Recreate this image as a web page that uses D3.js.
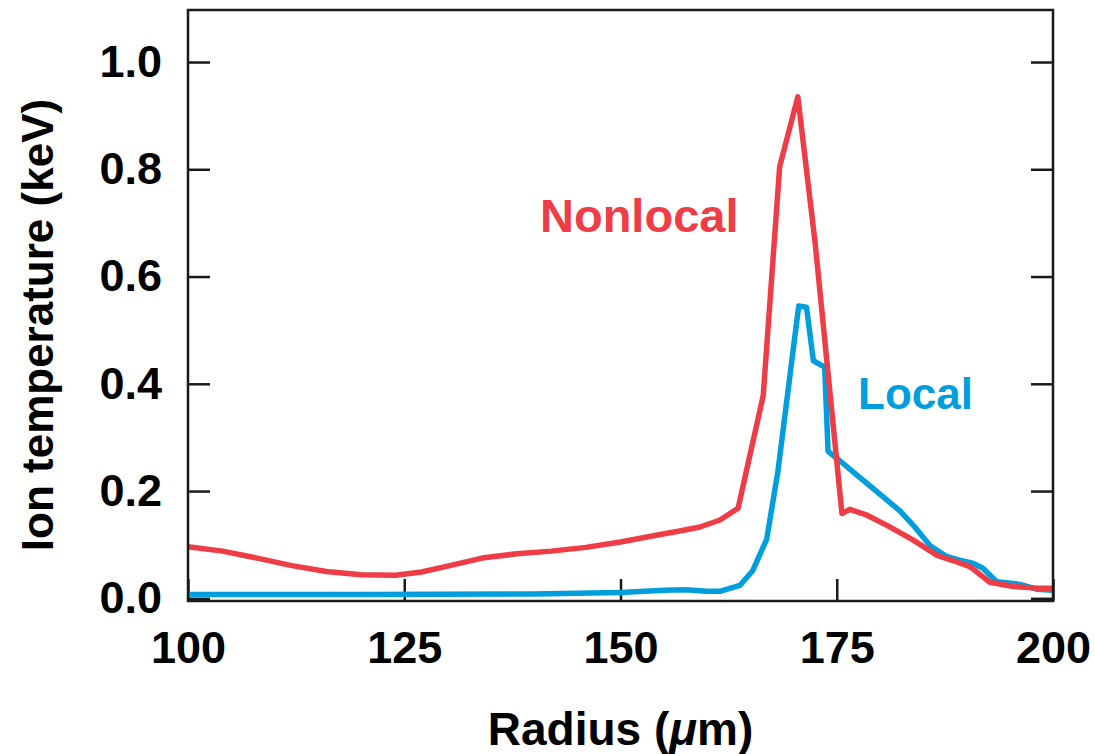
<!DOCTYPE html>
<html>
<head>
<meta charset="utf-8">
<script src="https://cdn.jsdelivr.net/npm/d3@7"></script>
<style>
  body { margin: 0; background: #fff; }
  text { font-family: "Liberation Sans", Arial, sans-serif; font-weight: bold; }
</style>
</head>
<body>
<div id="chart"></div>
<script>
// Nonlocal ion temperature profile (radius um, keV)
const nonlocalR = [100, 104, 108, 112, 116, 120, 124, 127, 130, 134, 138, 142, 146, 150, 154.6, 157, 159.2, 161.5, 163.6,
  166.5, 168.4, 170.5, 172.5, 175.6, 176.5, 178.5, 180.8, 183.8, 186.6, 188.5, 190.4, 192.7, 195.4, 198.1, 200];
const nonlocalT = [0.096, 0.088, 0.075, 0.061, 0.050, 0.044, 0.043, 0.049, 0.060, 0.075, 0.083, 0.088, 0.095, 0.105, 0.119, 0.126, 0.133, 0.146, 0.168,
  0.378, 0.805, 0.935, 0.663, 0.158, 0.166, 0.155, 0.136, 0.109, 0.080, 0.070, 0.059, 0.030, 0.022, 0.019, 0.019];

// Local ion temperature profile
const localR = [100, 120, 140, 150, 155, 157.5, 160, 161.5, 163.8, 165.3, 166.9, 168.2, 170.6, 171.5, 172.3, 173.6, 174.0,
  175.4, 177.3, 180.3, 182.3, 183.8, 185.8, 187.7, 189.5, 190.8, 191.9, 193.5, 196.2, 198.1, 200];
const localT = [0.007, 0.007, 0.008, 0.011, 0.015, 0.016, 0.013, 0.013, 0.024, 0.052, 0.110, 0.237, 0.545, 0.543, 0.443, 0.431, 0.274,
  0.256, 0.230, 0.190, 0.163, 0.137, 0.098, 0.078, 0.070, 0.065, 0.056, 0.031, 0.026, 0.017, 0.015];

const xTicks = [100, 125, 150, 175, 200];
const yTicks = [0, 0.2, 0.4, 0.6, 0.8, 1.0];

const W = 1095, H = 754;
const margin = { top: 10, right: 42, bottom: 153, left: 188 };
const width = W - margin.left - margin.right;
const height = H - margin.top - margin.bottom;

const red = "#ee3d47", blue = "#009edc", ink = "#1a1a1a";

const svg = d3.select("#chart").append("svg")
  .attr("width", W)
  .attr("height", H);

const g = svg.append("g")
  .attr("transform", `translate(${margin.left},${margin.top})`);

// Scales
const xScale = d3.scaleLinear().domain([100, 200]).range([0, width]);
const yScale = d3.scaleLinear().domain([-0.005, 1.097]).range([height, 0]);

// Axes with inward ticks (bottom, left, right)
const fmtY = d3.format(".1f");
const gx = g.append("g")
  .attr("transform", `translate(0,${height})`)
  .call(d3.axisBottom(xScale).tickValues(xTicks).tickSize(-22).tickPadding(30));
const gy = g.append("g")
  .call(d3.axisLeft(yScale).tickValues(yTicks).tickFormat(fmtY).tickSize(-22).tickPadding(26));
const gr = g.append("g")
  .attr("transform", `translate(${width},0)`)
  .call(d3.axisRight(yScale).tickValues(yTicks).tickSize(-22).tickFormat(""));

[gx, gy, gr].forEach(a => {
  a.select(".domain").remove();
  a.selectAll(".tick line").attr("stroke", ink).attr("stroke-width", 2.5);
  a.selectAll(".tick text")
    .attr("fill", "#000")
    .style("font-size", "45px")
    .style("font-family", "'Liberation Sans', Arial, sans-serif")
    .style("font-weight", "bold");
});

// Lines
const line = d3.line()
  .x(d => xScale(d[0]))
  .y(d => yScale(d[1]));

const plot = g.append("g");
plot.append("path")
  .datum(localR.map((r, i) => [r, localT[i]]))
  .attr("fill", "none")
  .attr("stroke", blue)
  .attr("stroke-width", 5.5)
  .attr("stroke-linejoin", "round")
  .attr("d", line);

plot.append("path")
  .datum(nonlocalR.map((r, i) => [r, nonlocalT[i]]))
  .attr("fill", "none")
  .attr("stroke", red)
  .attr("stroke-width", 5.5)
  .attr("stroke-linejoin", "round")
  .attr("d", line);

// Frame
g.append("rect")
  .attr("width", width)
  .attr("height", height)
  .attr("fill", "none")
  .attr("stroke", ink)
  .attr("stroke-width", 2.5);

// Series labels
g.append("text")
  .attr("x", 540 - margin.left)
  .attr("y", 232 - margin.top)
  .attr("fill", red)
  .style("font-size", "47px")
  .text("Nonlocal");

g.append("text")
  .attr("x", 858 - margin.left)
  .attr("y", 409 - margin.top)
  .attr("fill", blue)
  .style("font-size", "44px")
  .text("Local");

// Axis titles
const xt = svg.append("text")
  .attr("x", margin.left + width / 2)
  .attr("y", 745)
  .attr("text-anchor", "middle")
  .attr("fill", "#000")
  .style("font-size", "46px");
xt.append("tspan").text("Radius (");
xt.append("tspan").style("font-style", "italic").text("\u03bc");
xt.append("tspan").text("m)");

svg.append("text")
  .attr("transform", `translate(53,${325}) rotate(-90)`)
  .attr("text-anchor", "middle")
  .attr("fill", "#000")
  .style("font-size", "44px")
  .text("Ion temperature (keV)");
</script>
</body>
</html>
